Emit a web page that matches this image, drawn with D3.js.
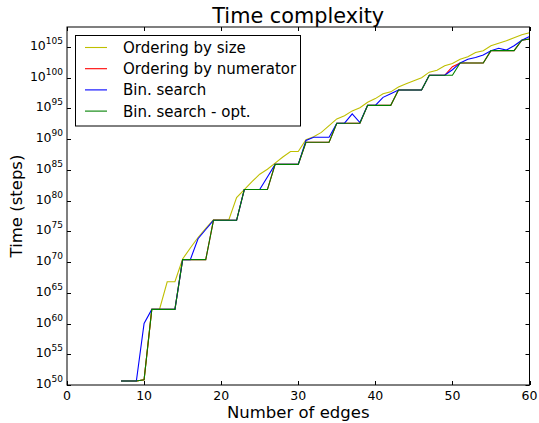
<!DOCTYPE html>
<html>
<head>
<meta charset="utf-8">
<script src="https://cdn.jsdelivr.net/npm/d3@7"></script>
<style>
  body { margin: 0; background: #fff; }
  svg { font-family: "DejaVu Sans", sans-serif; }
</style>
</head>
<body>
<div id="viz"></div>
<script>
// number of edges
var edges = d3.range(7, 61);
// log10 of steps
var sizeExp = [50.65, 50.65, 50.65, 50.86, 62.3, 62.3, 66.8, 66.8, 70.5, 72.3,
  74.0, 75.5, 76.9, 76.9, 76.9, 80.5, 81.8, 83.1, 84.3, 85.1,
  86.1, 87.1, 88.0, 88.0, 89.9, 90.4, 91.1, 92.2, 93.3, 93.8,
  94.6, 95.1, 96.0, 96.6, 97.4, 97.7, 98.5, 99.0, 99.5, 100.0,
  100.9, 101.2, 101.95, 102.3, 103.0, 103.4, 104.1, 104.4, 105.2, 105.6,
  106.0, 106.5, 107.0, 107.3];
var numerExp = [50.65, 50.65, 50.65, 50.86, 62.3, 62.3, 62.3, 62.3, 70.4, 70.4,
  70.4, 70.4, 76.8, 76.8, 76.8, 76.8, 81.8, 81.8, 81.8, 81.8,
  85.9, 85.9, 85.9, 85.9, 89.5, 89.5, 89.5, 89.5, 92.6, 92.6,
  92.6, 92.6, 95.5, 95.5, 95.5, 95.5, 98.0, 98.0, 98.0, 98.0,
  100.4, 100.4, 100.4, 101.8, 102.4, 102.4, 102.4, 102.4, 104.4, 104.4,
  104.4, 104.4, 106.1, 106.3];
var binExp = [50.65, 50.65, 50.65, 60.0, 62.3, 62.3, 62.3, 62.3, 70.4, 70.4,
  73.8, 75.3, 76.8, 76.8, 76.8, 76.8, 81.8, 81.8, 81.8, 83.85,
  85.9, 85.9, 85.9, 85.9, 89.8, 90.3, 90.3, 90.3, 92.6, 92.6,
  94.1, 92.7, 95.5, 95.5, 96.8, 97.4, 98.0, 98.0, 98.0, 98.0,
  100.4, 100.4, 100.4, 101.3, 102.4, 103.0, 103.3, 103.7, 104.4, 104.8,
  104.5, 105.2, 106.1, 106.7];
var binOptExp = [50.65, 50.65, 50.65, 50.86, 62.3, 62.3, 62.3, 62.3, 70.4, 70.4,
  70.4, 70.4, 76.8, 76.8, 76.8, 76.8, 81.8, 81.8, 81.8, 81.8,
  85.9, 85.9, 85.9, 85.9, 89.5, 89.5, 89.5, 89.5, 92.6, 92.6,
  92.6, 92.6, 95.5, 95.5, 95.5, 95.5, 98.0, 98.0, 98.0, 98.0,
  100.4, 100.4, 100.4, 100.4, 102.4, 102.4, 102.4, 102.4, 104.4, 104.4,
  104.4, 104.4, 106.1, 106.3];

var seriesNames = ['Ordering by size', 'Ordering by numerator', 'Bin. search', 'Bin. search - opt.'];
var seriesColors = ['#bfbf00', '#ff0000', '#0000ff', '#008000'];
var seriesData = [sizeExp, numerExp, binExp, binOptExp];

var xTicks = [0, 10, 20, 30, 40, 50, 60];
var yTickExps = [50, 55, 60, 65, 70, 75, 80, 85, 90, 95, 100, 105];

var W = 539, H = 423;
var plotL = 67, plotR = 529.5, plotT = 27, plotB = 385;

var svg = d3.select('#viz').append('svg')
    .attr('width', W)
    .attr('height', H);

var x = d3.scaleLinear().domain([0, 60]).range([plotL, plotR]);
var y = d3.scaleLog().domain([1e50, Math.pow(10, 108.25)]).range([plotB, plotT]);

var valueline = d3.line()
    .x(function(d) { return x(d[0]); })
    .y(function(d) { return y(d[1]); });

// lines
var g = svg.append('g').attr('id', 'lines');
seriesData.forEach(function(s, i) {
    var pts = edges.map(function(e, j) { return [e, Math.pow(10, s[j])]; });
    g.append('path')
        .attr('d', valueline(pts))
        .attr('fill', 'none')
        .attr('stroke', seriesColors[i])
        .attr('stroke-width', 1.1);
});

// frame
svg.append('rect')
    .attr('x', plotL).attr('y', plotT)
    .attr('width', plotR - plotL).attr('height', plotB - plotT)
    .attr('fill', 'none').attr('stroke', '#000').attr('stroke-width', 1);

// ticks (inside, mirrored)
var tk = svg.append('g').attr('stroke', '#000').attr('stroke-width', 1);
xTicks.forEach(function(t) {
    var px = Math.round(x(t)) + 0.5;
    tk.append('line').attr('x1', px).attr('x2', px).attr('y1', plotB).attr('y2', plotB - 4);
    tk.append('line').attr('x1', px).attr('x2', px).attr('y1', plotT).attr('y2', plotT + 4);
});
yTickExps.forEach(function(e) {
    var py = Math.round(y(Math.pow(10, e))) + 0.5;
    tk.append('line').attr('x1', plotL).attr('x2', plotL + 4).attr('y1', py).attr('y2', py);
    tk.append('line').attr('x1', plotR).attr('x2', plotR - 4).attr('y1', py).attr('y2', py);
});

// tick labels
svg.append('g').selectAll('text')
    .data(xTicks).enter().append('text')
    .attr('x', function(d) { return x(d); })
    .attr('y', 399.5)
    .attr('text-anchor', 'middle')
    .style('font-size', '12.5px')
    .text(function(d) { return d; });

var yl = svg.append('g');
yTickExps.forEach(function(e) {
    var t = yl.append('text')
        .attr('x', 63)
        .attr('y', y(Math.pow(10, e)) + 3)
        .attr('text-anchor', 'end')
        .style('font-size', '12.5px');
    t.append('tspan').text('10');
    t.append('tspan').attr('dy', -6).style('font-size', '9px').text(e);
});

// title and axis labels
svg.append('text')
    .attr('x', (plotL + plotR) / 2).attr('y', 22.5)
    .attr('text-anchor', 'middle')
    .style('font-size', '20.8px')
    .text('Time complexity');
svg.append('text')
    .attr('x', (plotL + plotR) / 2).attr('y', 418)
    .attr('text-anchor', 'middle')
    .style('font-size', '16.5px')
    .text('Number of edges');
svg.append('text')
    .attr('transform', 'translate(22,' + ((plotT + plotB) / 2) + ') rotate(-90)')
    .attr('text-anchor', 'middle')
    .style('font-size', '16.5px')
    .text('Time (steps)');

// legend
var lg = svg.append('g').attr('id', 'legend');
lg.append('rect')
    .attr('x', 75.5).attr('y', 35.5)
    .attr('width', 225).attr('height', 90.5)
    .attr('fill', '#fff').attr('stroke', '#000').attr('stroke-width', 1);
seriesNames.forEach(function(n, i) {
    var cy = 47.5 + i * 21.2;
    lg.append('line')
        .attr('x1', 85).attr('x2', 107)
        .attr('y1', cy).attr('y2', cy)
        .attr('stroke', seriesColors[i]).attr('stroke-width', 1.1);
    lg.append('text')
        .attr('x', 123).attr('y', cy + 5.5)
        .style('font-size', '15px')
        .text(n);
});
</script>
</body>
</html>
